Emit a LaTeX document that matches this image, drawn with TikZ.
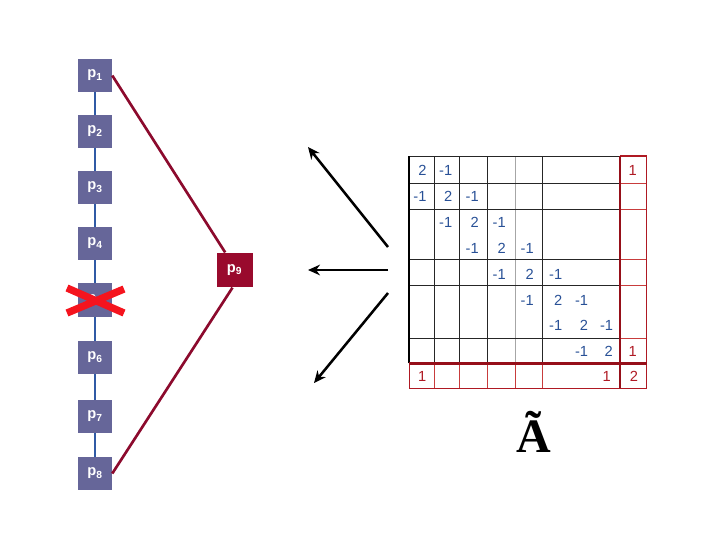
\documentclass[tikz,border=0pt]{standalone}
\usepackage{fontspec}
\setmainfont{Liberation Sans}
\newfontfamily\serifA{Liberation Serif}
\usetikzlibrary{arrows.meta}
\definecolor{boxblue}{RGB}{102,102,153}
\definecolor{chainblue}{RGB}{48,90,165}
\definecolor{linkred}{RGB}{140,10,45}
\definecolor{pninefill}{RGB}{153,10,45}
\definecolor{xred}{RGB}{245,20,30}
\definecolor{numblue}{RGB}{40,80,150}
\definecolor{numred}{RGB}{175,25,35}
\definecolor{gridred}{RGB}{200,60,60}
\definecolor{thickred}{RGB}{150,15,25}
\tikzset{
  pbox/.style={fill=boxblue, text=white, minimum width=25.5pt, minimum height=25pt, inner sep=0pt, font=\fontsize{11}{13}\selectfont\bfseries},
  pnine/.style={fill=pninefill, text=white, minimum width=27pt, minimum height=26pt, inner sep=0pt, font=\fontsize{11}{13}\selectfont\bfseries},
  chain/.style={draw=chainblue, line width=1.1pt},
  link/.style={draw=linkred, line width=2pt},
  cross/.style={draw=xred, line width=5.5pt},
  bigarrow/.style={draw=black, line width=1.9pt, -{Stealth[length=9pt,width=8pt]}},
  nb/.style={anchor=east, inner sep=0pt, text=numblue, font=\fontsize{11}{13}\selectfont},
  nr/.style={anchor=east, inner sep=0pt, text=numred, font=\fontsize{11}{13}\selectfont},
  gblack/.style={draw=black!85, line width=0.7pt},
  ggray/.style={draw=black!35, line width=0.7pt},
  gred/.style={draw=gridred, line width=0.7pt},
  gthick/.style={draw=thickred, line width=2pt},
}
\begin{document}
\begin{tikzpicture}[x=0.75pt,y=-0.75pt]
\useasboundingbox (0,0) rectangle (720,540);
% left chain
\node[pbox] (p1) at (95,75.5) {p\textsubscript{1}};
\node[pbox] (p2) at (95,131.5) {p\textsubscript{2}};
\node[pbox] (p3) at (95,187.5) {p\textsubscript{3}};
\node[pbox] (p4) at (95,243.5) {p\textsubscript{4}};
\node[pbox] (p5) at (95,300) {p\textsubscript{5}};
\node[pbox] (p6) at (95,357.5) {p\textsubscript{6}};
\node[pbox] (p7) at (95,416.5) {p\textsubscript{7}};
\node[pbox] (p8) at (95,473.5) {p\textsubscript{8}};
\foreach \a/\b in {p1/p2,p2/p3,p3/p4,p4/p5,p5/p6,p6/p7,p7/p8}
  \draw[chain] (\a) -- (\b);
\node[pnine] (p9) at (234.5,270) {p\textsubscript{9}};
\draw[link] (p1.east) -- ([xshift=-7pt]p9.north);
\draw[link] (p8.east) -- ([xshift=-1.5pt]p9.south);
% cross over p5
\coordinate (x1) at (67,288);
\coordinate (x2) at (124,313);
\coordinate (x3) at (67,313);
\coordinate (x4) at (124,289);
\draw[cross] (x1) -- (x2);
\draw[cross] (x3) -- (x4);
% arrows
\coordinate (a1s) at (388,247);
\coordinate (a1e) at (308,147);
\coordinate (a2s) at (388,270);
\coordinate (a2e) at (308,270);
\coordinate (a3s) at (388,293);
\coordinate (a3e) at (314,383);
\draw[bigarrow] (a1s) -- (a1e);
\draw[bigarrow] (a2s) -- (a2e);
\draw[bigarrow] (a3s) -- (a3e);
% matrix grid
\foreach \x in {434.3,459.3,487.3,542.7}
  \draw[gblack] (\x,156) -- (\x,363.3);
\draw[ggray] (515,156) -- (515,363.3);
\foreach \y in {183.3,209,259.3,285.7,338.3}
  \draw[gblack] (409.3,\y) -- (620,\y);
\draw[gblack] (409.3,156) -- (620,156);
\foreach \x in {434.3,459.3,487.3,515,542.7}
  \draw[gred] (\x,363.3) -- (\x,388.3);
\foreach \y in {183.3,209,259.3,285.7,338.3}
  \draw[gred] (620,\y) -- (646.7,\y);
\draw[draw=numred, line width=1.1pt] (620,156) -- (646.7,156) -- (646.7,388.3) -- (409.3,388.3) -- (409.3,363.3);
\draw[draw=black, line width=1.6pt] (409.3,363.3) -- (409.3,156);
\draw[gthick] (620,156) -- (620,388.3);
\draw[gthick] (409.3,363.3) -- (646.7,363.3);
% matrix entries
\node[nb] (m11) at (426.7,170.5) {2};
\node[nb] (m12) at (452.5,170.5) {-1};
\node[nr] (m19) at (637,170.5) {1};
\node[nb] (m21) at (426.7,196.5) {-1};
\node[nb] (m22) at (452.5,196.5) {2};
\node[nb] (m23) at (479,196.5) {-1};
\node[nb] (m32) at (452.5,222.5) {-1};
\node[nb] (m33) at (479,222.5) {2};
\node[nb] (m34) at (506,222.5) {-1};
\node[nb] (m43) at (479,248.5) {-1};
\node[nb] (m44) at (506,248.5) {2};
\node[nb] (m45) at (534,248.5) {-1};
\node[nb] (m54) at (506,274) {-1};
\node[nb] (m55) at (534,274) {2};
\node[nb] (m56) at (562.5,274) {-1};
\node[nb] (m65) at (534,300) {-1};
\node[nb] (m66) at (562.5,300) {2};
\node[nb] (m67) at (588.3,300) {-1};
\node[nb] (m76) at (562.5,325.5) {-1};
\node[nb] (m77) at (588.3,325.5) {2};
\node[nb] (m78) at (613.3,325.5) {-1};
\node[nb] (m87) at (588.3,351) {-1};
\node[nb] (m88) at (613,351) {2};
\node[nr] (m89) at (637,351) {1};
\node[nr] (m91) at (426.5,376.5) {1};
\node[nr] (m98) at (611,376.5) {1};
\node[nr] (m99) at (638.3,376.5) {2};
% label
\node[inner sep=0pt, font=\serifA\fontsize{36}{40}\selectfont\bfseries] (lab) at (534,432) {Ã};
\end{tikzpicture}
\end{document}
